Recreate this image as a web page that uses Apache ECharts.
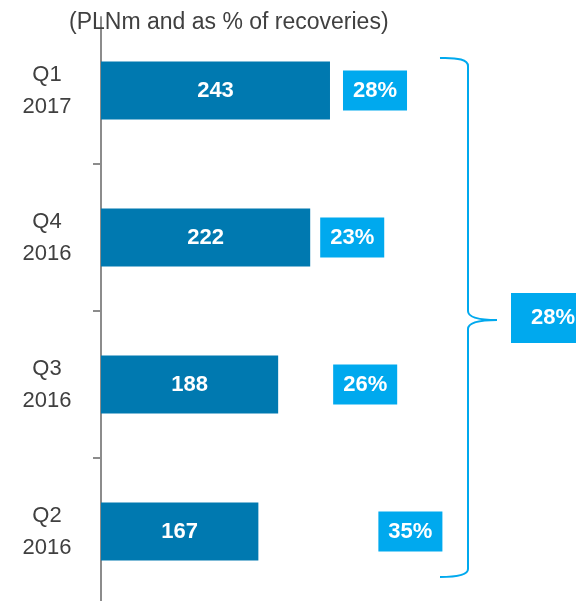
<!DOCTYPE html>
<html>
<head>
<meta charset="utf-8">
<script src="https://cdn.jsdelivr.net/npm/echarts@6/dist/echarts.min.js"></script>
<style>
  html, body { margin: 0; padding: 0; background: #fff; }
  #chart { width: 576px; height: 601px; }
</style>
</head>
<body>
<div id="chart"></div>
<script>
  // data
  const categories = ['Q1\n2017', 'Q4\n2016', 'Q3\n2016', 'Q2\n2016']
  const recoveries = [243, 222, 188, 167]
  const pctLabels = ['28%', '23%', '26%', '35%']
  const totalPct = ['28%']

  // layout only: gap between bar end and its % box
  const pctGap = [13, 10, 55, 120]

  const barColor = '#0079b0'
  const boxColor = '#00a9ee'
  const textGrey = '#404040'
  const font = 'Liberation Sans, Arial, sans-serif'

  const chart = echarts.init(document.getElementById('chart'))

  // brace on the right, made of curve and line pieces
  const braceStyle = { fill: null, stroke: boxColor, lineWidth: 2 }
  const curve = (x1, y1, x2, y2, cx, cy) => ({
    type: 'bezierCurve',
    shape: { x1: x1, y1: y1, x2: x2, y2: y2, cpx1: cx, cpy1: cy },
    style: braceStyle
  })
  const seg = (x1, y1, x2, y2) => ({
    type: 'line',
    shape: { x1: x1, y1: y1, x2: x2, y2: y2 },
    style: braceStyle
  })

  const option = {
    animation: false,
    title: {
      text: '(PLNm and as % of recoveries)',
      left: 69,
      top: 11,
      padding: 0,
      textStyle: { fontFamily: font, fontSize: 23, fontWeight: 'normal', color: textGrey }
    },
    grid: { left: 101, top: 17, width: 474, height: 588, outerBoundsMode: 'none' },
    xAxis: { type: 'value', min: 0, max: 503, show: false },
    yAxis: {
      type: 'category',
      inverse: true,
      data: categories,
      axisLine: { show: true, lineStyle: { color: '#8c8c8c', width: 2 } },
      axisTick: {
        show: true,
        length: 8,
        interval: function (idx) { return idx !== 0 },
        lineStyle: { color: '#8c8c8c', width: 2 }
      },
      axisLabel: {
        margin: 54,
        align: 'center',
        fontFamily: font,
        fontSize: 22,
        lineHeight: 32,
        color: textGrey
      },
      splitLine: { show: false }
    },
    series: [
      {
        type: 'bar',
        data: recoveries,
        barWidth: 58,
        itemStyle: { color: barColor },
        label: {
          show: true,
          position: 'inside',
          color: '#fff',
          fontFamily: font,
          fontSize: 22,
          fontWeight: 'bold'
        }
      },
      {
        type: 'scatter',
        symbolSize: 0,
        itemStyle: { opacity: 1 },
        data: recoveries.map((v, i) => ({
          value: [v, i],
          label: { distance: pctGap[i] }
        })),
        label: {
          show: true,
          position: 'right',
          formatter: p => pctLabels[p.dataIndex],
          backgroundColor: boxColor,
          color: '#fff',
          fontFamily: font,
          fontSize: 22,
          fontWeight: 'bold',
          lineHeight: 22,
          padding: [9, 10]
        }
      }
    ],
    graphic: [
      curve(440, 58, 468, 66, 468, 57),
      seg(468, 66, 468, 311),
      curve(468, 311, 497, 320, 468, 320),
      curve(497, 320, 468, 329, 468, 320),
      seg(468, 329, 468, 569),
      curve(468, 569, 440, 577, 468, 577),
      {
        type: 'rect',
        shape: { x: 511, y: 293, width: 80, height: 50 },
        style: { fill: boxColor }
      },
      {
        type: 'text',
        x: 553,
        y: 318,
        style: {
          text: totalPct[0],
          fill: '#fff',
          font: 'bold 22px ' + font,
          align: 'center',
          verticalAlign: 'middle'
        }
      }
    ]
  }

  chart.setOption(option)
</script>
</body>
</html>
